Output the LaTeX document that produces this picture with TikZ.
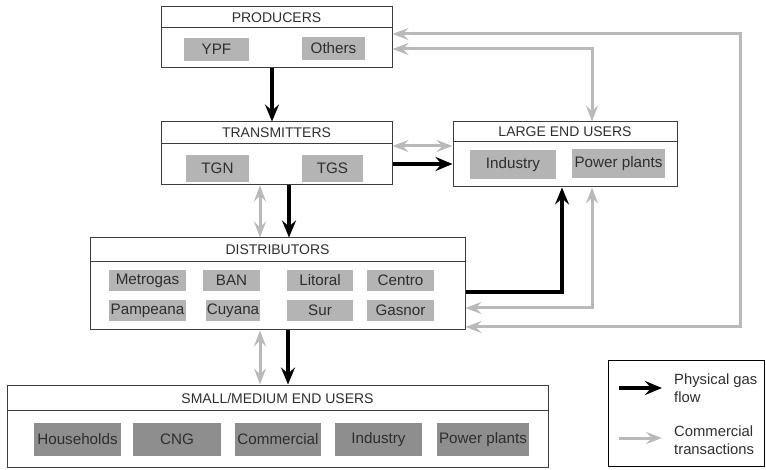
\documentclass[tikz,border=0pt]{standalone}
\usepackage{fontspec}
\setmainfont{Liberation Sans}
\usetikzlibrary{arrows.meta}

\definecolor{boxline}{HTML}{3C3C3C}
\definecolor{txt}{HTML}{2E2E2E}
\definecolor{lightfill}{HTML}{B4B4B4}
\definecolor{darkfill}{HTML}{8E8E8E}
\definecolor{tradegray}{HTML}{B9B9B9}

\begin{document}
\begin{tikzpicture}[x=1pt,y=-1pt,
    group/.style={draw=boxline, line width=1pt, inner sep=0pt},
    head/.style={text=txt, font=\fontsize{14}{16}\selectfont, inner sep=0pt},
    firm/.style={fill=lightfill, text=txt, font=\fontsize{15.2}{17}\selectfont, inner sep=0pt},
    firmdark/.style={firm, fill=darkfill},
    flow/.style={line width=3.3pt, -{Stealth[length=17pt,width=14pt,inset=6pt]}},
    trade/.style={draw=tradegray, line width=3pt, {Stealth[length=16pt,width=12pt,inset=6pt]}-{Stealth[length=16pt,width=12pt,inset=6pt]}},
    legtext/.style={text=txt, font=\fontsize{14.8}{18.5}\selectfont, align=left, anchor=west, inner sep=0pt}]
\useasboundingbox (0,0) rectangle (766,470);

% groups
\node[group, minimum width=231pt, minimum height=61pt] (prod) at (276.5,37.5) {};
\node[group, minimum width=231pt, minimum height=63pt] (trans) at (276.5,153.5) {};
\node[group, minimum width=224pt, minimum height=65pt] (leu) at (565,154.5) {};
\node[group, minimum width=375pt, minimum height=92pt] (dist) at (277.5,284) {};
\node[group, minimum width=541pt, minimum height=82pt] (smu) at (277.5,426) {};

\draw[group] ([yshift=-21pt]prod.north west) -- ([yshift=-21pt]prod.north east);
\draw[group] ([yshift=-22pt]trans.north west) -- ([yshift=-22pt]trans.north east);
\draw[group] ([yshift=-20pt]leu.north west) -- ([yshift=-20pt]leu.north east);
\draw[group] ([yshift=-24pt]dist.north west) -- ([yshift=-24pt]dist.north east);
\draw[group] ([yshift=-26pt]smu.north west) -- ([yshift=-26pt]smu.north east);

\node[head] (prodtitle) at (276.5,17.5) {PRODUCERS};
\node[head] (transtitle) at (276.5,133) {TRANSMITTERS};
\node[head] (leutitle) at (565,132) {LARGE END USERS};
\node[head] (disttitle) at (277.5,250) {DISTRIBUTORS};
\node[head] (smutitle) at (277.5,398) {SMALL/MEDIUM END USERS};

% members
\node[firm, minimum width=65pt, minimum height=23pt] (ypf) at (216.5,49.5) {YPF};
\node[firm, minimum width=63pt, minimum height=23pt] (others) at (333.5,48.5) {Others};
\node[firm, minimum width=63pt, minimum height=27pt] (tgn) at (217.5,168.5) {TGN};
\node[firm, minimum width=61pt, minimum height=27pt] (tgs) at (332.5,168.5) {TGS};
\node[firm, minimum width=86pt, minimum height=29pt] (leuind) at (513,164.5) {Industry};
\node[firm, minimum width=93pt, minimum height=29pt] (leupow) at (618.5,163.5) {Power plants};

\node[firm, minimum width=77pt, minimum height=21pt] (metrogas) at (147.5,280.5) {Metrogas};
\node[firm, minimum width=57pt, minimum height=21pt] (ban) at (231.5,280.5) {BAN};
\node[firm, minimum width=66pt, minimum height=21pt] (litoral) at (320,280.5) {Litoral};
\node[firm, minimum width=67pt, minimum height=21pt] (centro) at (400.5,280.5) {Centro};
\node[firm, minimum width=77pt, minimum height=21pt] (pampeana) at (147.5,310.5) {Pampeana};
\node[firm, minimum width=54pt, minimum height=21pt] (cuyana) at (233,310.5) {Cuyana};
\node[firm, minimum width=66pt, minimum height=21pt] (sur) at (320,310.5) {Sur};
\node[firm, minimum width=67pt, minimum height=21pt] (gasnor) at (400.5,310.5) {Gasnor};

\node[firmdark, minimum width=87pt, minimum height=33pt] (house) at (77.5,439.5) {Households};
\node[firmdark, minimum width=88pt, minimum height=33pt] (cng) at (177,439.5) {CNG};
\node[firmdark, minimum width=86pt, minimum height=33pt] (comm) at (278,439.5) {Commercial};
\node[firmdark, minimum width=87pt, minimum height=33pt] (smuind) at (378.5,439.5) {Industry};
\node[firmdark, minimum width=92pt, minimum height=33pt] (smupow) at (483,439.5) {Power plants};

% physical gas flow
\draw[flow] ([xshift=-4.5pt]prod.south) -- ([xshift=-4.5pt]trans.north);
\draw[flow] ([yshift=-10.5pt]trans.east) -- ([yshift=-9.5pt]leu.west);
\draw[flow] ([xshift=12.5pt]trans.south) -- ([xshift=11.5pt]dist.north);
\draw[flow] ([xshift=10.5pt]dist.south) -- ([xshift=10.5pt]smu.north);
\draw[flow] ([yshift=-8pt]dist.east) -| ([xshift=-3pt]leu.south);

% commercial transactions
\coordinate (farright) at (740,180);
\draw[trade] ([yshift=7.5pt]trans.east) -- ([yshift=8.5pt]leu.west);
\draw[trade] ([xshift=-16.5pt]trans.south) -- ([xshift=-17.5pt]dist.north);
\draw[trade] ([xshift=-17.5pt]dist.south) -- ([xshift=-17.5pt]smu.north);
\draw[trade] ([xshift=27pt]leu.south) |- ([yshift=-24pt]dist.east);
\draw[trade] ([yshift=-11.5pt]prod.east) -| ([xshift=27pt]leu.north);
\draw[trade] ([yshift=3.5pt]prod.east) -| (farright) |- ([yshift=-43pt]dist.east);

% legend
\node[draw=black, line width=1.8pt, minimum width=156pt, minimum height=106pt] (legend) at (686.5,413.5) {};
\coordinate (flowa) at (619,388);
\coordinate (flowb) at (662,388);
\coordinate (tradea) at (619,438);
\coordinate (tradeb) at (662,438);
\draw[flow] (flowa) -- (flowb);
\draw[draw=tradegray, line width=3pt, -{Stealth[length=16pt,width=12pt,inset=6pt]}] (tradea) -- (tradeb);
\node[legtext] (flowlbl) at (674,388) {Physical gas\\flow};
\node[legtext] (tradelbl) at (674,440) {Commercial\\transactions};
\end{tikzpicture}
\end{document}
